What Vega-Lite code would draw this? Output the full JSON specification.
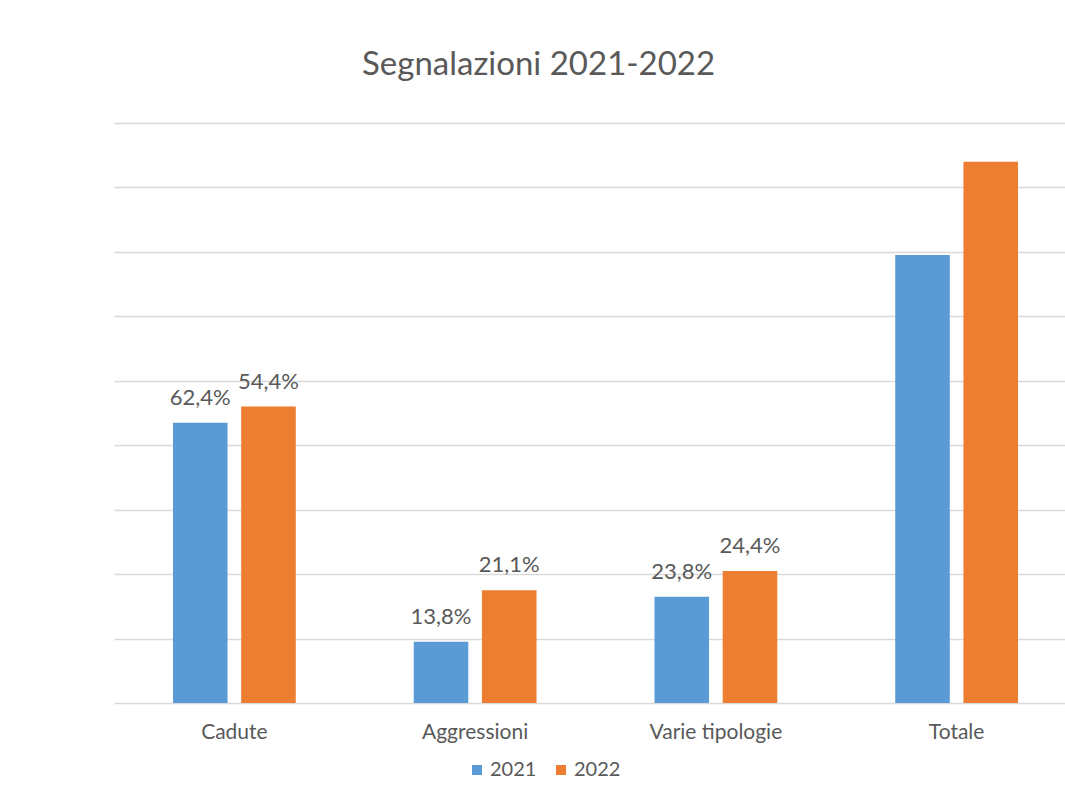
{
  "$schema": "https://vega.github.io/schema/vega-lite/v6.json",
  "autosize": "none",
  "width": 951,
  "height": 580,
  "padding": {"left": 114, "top": 123, "right": 0, "bottom": 99},
  "background": "#ffffff",
  "title": {
    "text": "Segnalazioni 2021-2022",
    "font": "Lato",
    "fontSize": 33,
    "fontWeight": "normal",
    "color": "#595959",
    "anchor": "start",
    "dx": 248,
    "offset": 41
  },
  "data": {
    "values": [
      {"categoria": "Cadute", "anno": "2021", "valore": 87, "etichetta": "62,4%"},
      {"categoria": "Cadute", "anno": "2022", "valore": 92, "etichetta": "54,4%"},
      {"categoria": "Aggressioni", "anno": "2021", "valore": 19, "etichetta": "13,8%"},
      {"categoria": "Aggressioni", "anno": "2022", "valore": 35, "etichetta": "21,1%"},
      {"categoria": "Varie tipologie", "anno": "2021", "valore": 33, "etichetta": "23,8%"},
      {"categoria": "Varie tipologie", "anno": "2022", "valore": 41, "etichetta": "24,4%"},
      {"categoria": "Totale", "anno": "2021", "valore": 139, "etichetta": ""},
      {"categoria": "Totale", "anno": "2022", "valore": 168, "etichetta": ""}
    ]
  },
  "encoding": {
    "x": {
      "field": "categoria",
      "type": "nominal",
      "sort": ["Cadute", "Aggressioni", "Varie tipologie", "Totale"],
      "scale": {"paddingInner": 0.49, "paddingOuter": 0.245, "range": [0, 963]},
      "axis": {
        "title": null,
        "labelAngle": 0,
        "domain": false,
        "ticks": false,
        "labelFont": "Lato",
        "labelFontSize": 21,
        "labelColor": "#595959",
        "labelPadding": 18
      }
    },
    "xOffset": {
      "field": "anno",
      "type": "nominal",
      "scale": {"paddingInner": 0.2, "paddingOuter": 0}
    },
    "y": {
      "field": "valore",
      "type": "quantitative",
      "scale": {"domain": [0, 180], "nice": false},
      "axis": {
        "title": null,
        "labels": false,
        "ticks": false,
        "domain": false,
        "values": [0, 20, 40, 60, 80, 100, 120, 140, 160, 180],
        "grid": true,
        "gridColor": "#d9d9d9",
        "gridWidth": 1.3
      }
    }
  },
  "layer": [
    {
      "mark": {"type": "bar"},
      "encoding": {
        "color": {
          "field": "anno",
          "type": "nominal",
          "scale": {"domain": ["2021", "2022"], "range": ["#5b9bd5", "#ed7d31"]},
          "legend": {
            "title": null,
            "orient": "none",
            "direction": "horizontal",
            "legendX": 353,
            "legendY": 637,
            "symbolType": "square",
            "symbolSize": 100,
            "symbolStrokeWidth": 0,
            "labelFont": "Lato",
            "labelFontSize": 20,
            "labelColor": "#595959",
            "columnPadding": 14,
            "labelOffset": 3
          }
        }
      }
    },
    {
      "mark": {
        "type": "text",
        "baseline": "alphabetic",
        "dy": -18,
        "font": "Lato",
        "fontSize": 22,
        "color": "#595959"
      },
      "encoding": {
        "text": {"field": "etichetta"}
      }
    }
  ],
  "config": {
    "view": {"stroke": null}
  }
}
